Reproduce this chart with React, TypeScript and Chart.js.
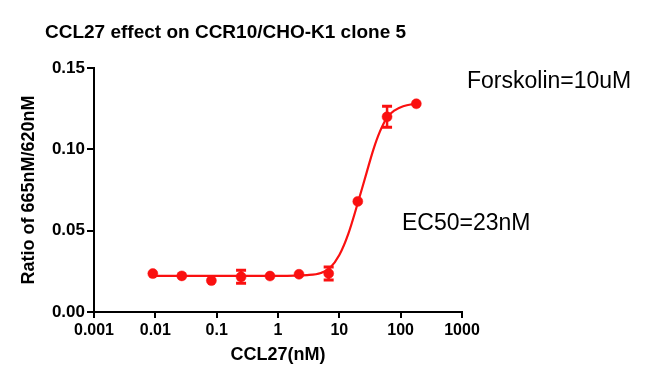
import React, { useEffect, useRef } from 'react';
import { Chart, registerables } from 'chart.js';

Chart.register(...registerables);

// ---- data ----
const concentrations = [0.0091, 0.027, 0.082, 0.25, 0.74, 2.2, 6.7, 20, 60, 180];
const ratioMeans = [0.0236, 0.0222, 0.0193, 0.0216, 0.0221, 0.0232, 0.0237, 0.0680, 0.1200, 0.1280];
const ratioErrors = [0, 0, 0, 0.004, 0, 0, 0.004, 0, 0.0065, 0];

const fitX = [0.0091, 0.1, 1, 3, 5, 7, 10, 14, 20, 28, 36, 46, 60, 80, 110, 180];
const fitY = [0.0222, 0.0222, 0.0222, 0.0227, 0.024, 0.027, 0.035, 0.048, 0.067, 0.086, 0.1, 0.111, 0.1195, 0.124, 0.1265, 0.1282];

const xTickValues = [0.001, 0.01, 0.1, 1, 10, 100, 1000];
const xTickLabels = ['0.001', '0.01', '0.1', '1', '10', '100', '1000'];
const yTickValues = [0, 0.05, 0.1, 0.15];

const chartTitle = 'CCL27 effect on CCR10/CHO-K1 clone 5';
const xAxisTitle = 'CCL27(nM)';
const yAxisTitle = 'Ratio of 665nM/620nM';
const noteForskolin = 'Forskolin=10uM';
const noteEC50 = 'EC50=23nM';

const RED = '#fa1010';
const FONT = '"Liberation Sans", Arial, Helvetica, sans-serif';

const textPlugin = {
  id: 'textPlugin',
  afterDraw(chart: any) {
    const ctx = chart.ctx;
    ctx.save();
    ctx.fillStyle = '#000';
    ctx.textBaseline = 'middle';
    ctx.textAlign = 'left';
    ctx.font = `bold 19px ${FONT}`;
    ctx.fillText(chartTitle, 45, 33);
    ctx.font = `23px ${FONT}`;
    ctx.fillText(noteForskolin, 467, 82);
    ctx.fillText(noteEC50, 402, 224);
    ctx.restore();
  },
};

const errorBarPlugin = {
  id: 'errorBars',
  afterDatasetsDraw(chart: any) {
    const ctx = chart.ctx;
    const xs = chart.scales.x;
    const ys = chart.scales.y;
    ctx.save();
    ctx.strokeStyle = RED;
    ctx.lineWidth = 2.5;
    concentrations.forEach((c, i) => {
      const e = ratioErrors[i];
      if (!e) return;
      const px = xs.getPixelForValue(c);
      const top = ys.getPixelForValue(ratioMeans[i] + e);
      const bot = ys.getPixelForValue(ratioMeans[i] - e);
      ctx.beginPath();
      ctx.moveTo(px, top);
      ctx.lineTo(px, bot);
      ctx.stroke();
      ctx.lineWidth = 3;
      ctx.beginPath();
      ctx.moveTo(px - 5, top);
      ctx.lineTo(px + 5, top);
      ctx.moveTo(px - 5, bot);
      ctx.lineTo(px + 5, bot);
      ctx.stroke();
      ctx.lineWidth = 2.5;
    });
    ctx.restore();
  },
};

export default function App() {
  const canvasRef = useRef<HTMLCanvasElement>(null);

  useEffect(() => {
    if (!canvasRef.current) return;
    const chart = new Chart(canvasRef.current, {
      type: 'line',
      data: {
        datasets: [
          {
            label: 'fit',
            data: fitX.map((x, i) => ({ x, y: fitY[i] })),
            borderColor: RED,
            borderWidth: 2.2,
            pointRadius: 0,
            cubicInterpolationMode: 'monotone',
            fill: false,
          },
          {
            label: 'data',
            data: concentrations.map((x, i) => ({ x, y: ratioMeans[i] })),
            showLine: false,
            pointRadius: 5,
            pointStyle: 'circle',
            pointBackgroundColor: RED,
            pointBorderColor: RED,
            pointBorderWidth: 0.5,
          },
        ],
      },
      options: {
        animation: false,
        responsive: false,
        devicePixelRatio: 1,
        layout: { padding: { left: 0, top: 68, right: 186, bottom: 0 } },
        plugins: {
          legend: { display: false },
          tooltip: { enabled: false },
          title: { display: false },
        },
        scales: {
          x: {
            type: 'logarithmic',
            min: 0.001,
            max: 1000,
            afterBuildTicks: (scale: any) => {
              scale.ticks = xTickValues.map((v) => ({ value: v }));
            },
            afterFit: (scale: any) => {
              scale.height = 77;
              scale.paddingLeft = 0;
              scale.paddingRight = 0;
            },
            ticks: {
              autoSkip: false,
              maxRotation: 0,
              minRotation: 0,
              padding: 3,
              color: '#000',
              font: { family: FONT, size: 16, weight: 'bold' },
              callback: (_v: any, i: number) => xTickLabels[i],
            },
            grid: {
              drawOnChartArea: false,
              drawTicks: true,
              tickLength: 6,
              color: '#000',
              lineWidth: 2,
            },
            border: { display: true, color: '#000', width: 2 },
            title: {
              display: true,
              text: xAxisTitle,
              color: '#000',
              font: { family: FONT, size: 18, weight: 'bold' },
              padding: { top: 0, bottom: 23 },
            },
          },
          y: {
            type: 'linear',
            min: 0,
            max: 0.15,
            afterBuildTicks: (scale: any) => {
              scale.ticks = yTickValues.map((v) => ({ value: v }));
            },
            afterFit: (scale: any) => {
              scale.width = 94;
              scale.paddingTop = 0;
              scale.paddingBottom = 0;
            },
            ticks: {
              padding: 2,
              color: '#000',
              font: { family: FONT, size: 17, weight: 'bold' },
              callback: (v: any) => Number(v).toFixed(2),
            },
            grid: {
              drawOnChartArea: false,
              drawTicks: true,
              tickLength: 7,
              color: '#000',
              lineWidth: 2,
            },
            border: { display: true, color: '#000', width: 2 },
            title: {
              display: true,
              text: yAxisTitle,
              color: '#000',
              font: { family: FONT, size: 18, weight: 'bold' },
              padding: { top: 18, bottom: 0 },
            },
          },
        },
      } as any,
      plugins: [errorBarPlugin, textPlugin],
    });
    return () => chart.destroy();
  }, []);

  return (
    <div style={{ position: 'fixed', left: 0, top: 0, width: 648, height: 389, background: '#fff' }}>
      <canvas ref={canvasRef} width={648} height={389} style={{ width: 648, height: 389 }} />
    </div>
  );
}
